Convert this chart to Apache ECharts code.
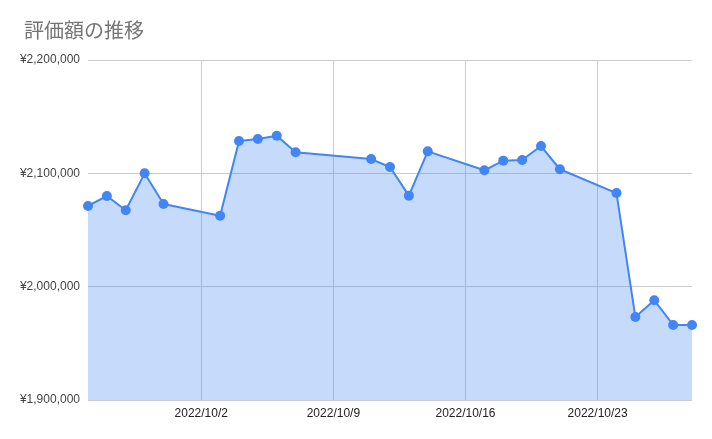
<!DOCTYPE html>
<html><head><meta charset="utf-8">
<script src="https://cdn.jsdelivr.net/npm/echarts@6/dist/echarts.min.js"></script>
<style>html,body{margin:0;padding:0;background:#fff}#c{width:712px;height:439px}</style>
</head><body><div id="c"></div>
<script>
const titleText = '評価額の推移';
const dates = ['2022-09-26','2022-09-27','2022-09-28','2022-09-29','2022-09-30',
  '2022-10-03','2022-10-04','2022-10-05','2022-10-06','2022-10-07',
  '2022-10-11','2022-10-12','2022-10-13','2022-10-14',
  '2022-10-17','2022-10-18','2022-10-19','2022-10-20','2022-10-21',
  '2022-10-24','2022-10-25','2022-10-26','2022-10-27','2022-10-28'];
const values = [2071200,2080000,2067400,2100000,2073000,
  2062600,2128500,2130300,2133200,2118600,
  2112600,2105600,2080300,2119400,
  2102700,2111200,2111800,2124100,2103600,
  2082600,1973200,1988000,1966200,1966200];
const xTickDates = ['2022-10-02','2022-10-09','2022-10-16','2022-10-23'];
const yTicks = [1900000,2000000,2100000,2200000];

function ts(s){const p=s.split('-').map(Number);return Date.UTC(p[0],p[1]-1,p[2]);}
const seriesData = dates.map((d,i)=>[ts(d), values[i]]);
const chart = echarts.init(document.getElementById('c'), null, {renderer:'canvas'});
chart.setOption({
  animation:false,
  title:{text:titleText,left:19,top:15,textStyle:{fontFamily:'"Noto Sans CJK JP", sans-serif',fontSize:20,fontWeight:'normal',color:'#757575'}},
  grid:{left:88,right:20,top:60,bottom:39,containLabel:false},
  xAxis:{type:'value',min:ts(dates[0]),max:ts(dates[dates.length-1]),
    axisLine:{show:false},
    axisTick:{show:false,customValues:xTickDates.map(ts)},
    axisLabel:{customValues:xTickDates.map(ts),color:'#222',fontSize:12,fontFamily:'Arial, "Liberation Sans", sans-serif',margin:8,
      formatter:function(v){const d=new Date(v);return d.getUTCFullYear()+'/'+(d.getUTCMonth()+1)+'/'+d.getUTCDate();}},
    splitLine:{show:true,lineStyle:{color:'#cccccc',width:1}}
  },
  yAxis:{type:'value',min:yTicks[0],max:yTicks[yTicks.length-1],interval:100000,
    axisLine:{show:false},axisTick:{show:false},
    axisLabel:{color:'#444',fontSize:12,fontFamily:'Arial, "Liberation Sans", sans-serif',margin:8,
      formatter:function(v){return '¥'+v.toLocaleString('en-US');}},
    splitLine:{lineStyle:{color:'#cccccc',width:1}}
  },
  series:[{type:'line',data:seriesData,symbol:'circle',symbolSize:10,showAllSymbol:true,
    itemStyle:{color:'#4285f4'},lineStyle:{color:'#4285f4',width:2},
    areaStyle:{color:'#4285f4',opacity:0.3,origin:'start'},z:3}]
});
</script></body></html>
